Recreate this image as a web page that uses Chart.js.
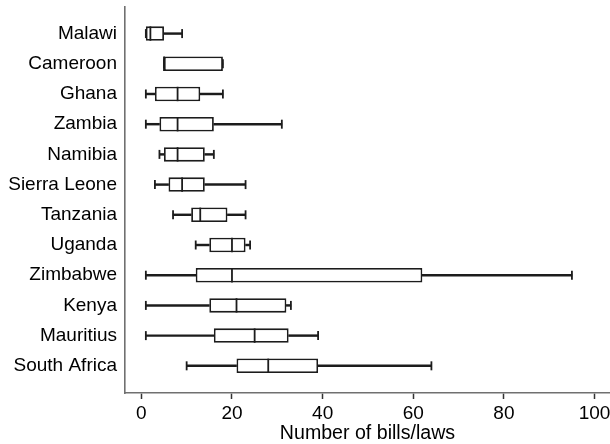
<!DOCTYPE html>
<html>
<head>
<meta charset="utf-8">
<script src="https://cdn.jsdelivr.net/npm/chart.js@4/dist/chart.umd.min.js"></script>
<style>
  html, body { margin: 0; padding: 0; background: #fff; overflow: hidden; }
  #wrap { width: 610px; height: 444px; }
</style>
</head>
<body>
<div id="wrap"><canvas id="myChart"></canvas></div>
<script>
let countries = ['Malawi', 'Cameroon', 'Ghana', 'Zambia', 'Namibia', 'Sierra Leone', 'Tanzania', 'Uganda', 'Zimbabwe', 'Kenya', 'Mauritius', 'South Africa'];
let lows    = [1, 5, 1, 1, 4, 3, 7, 12, 1, 1, 1, 10];
let q1s     = [1, 5, 3, 4, 5, 6, 11, 15, 12, 15, 16, 21];
let medians = [2, 5, 8, 8, 8, 9, 13, 20, 20, 21, 25, 28];
let q3s     = [5, 18, 13, 16, 14, 14, 19, 23, 62, 32, 32.5, 39];
let highs   = [9, 18, 18, 31, 16, 23, 23, 24, 95, 33, 39, 64];
let xTicks  = [0, 20, 40, 60, 80, 100];

let ink = '#1c1c1c';
let axisGray = '#707070';
let font = { family: "'Liberation Sans', Arial, sans-serif", size: 19 };
let titleFont = { family: "'Liberation Sans', Arial, sans-serif", size: 19.6 };

let lowWhisker = [], highWhisker = [], boxes = [], mids = [], caps = [];
for (let i = 0; i < countries.length; i++) {
  lowWhisker.push({ x: [lows[i], q1s[i]], y: i });
  highWhisker.push({ x: [q3s[i], highs[i]], y: i });
  boxes.push({ x: [q1s[i], q3s[i]], y: i });
  mids.push({ x: medians[i], y: i });
  caps.push({ x: lows[i], y: i });
  caps.push({ x: highs[i], y: i });
}

let whiskerStyle = {
  backgroundColor: ink,
  borderWidth: 0,
  barThickness: 1.8,
  grouped: false
};

let capStyle = {
  type: 'scatter',
  pointStyle: 'line',
  rotation: 90,
  borderColor: ink,
  borderWidth: 1.8,
  showLine: false
};

let canvas = document.getElementById('myChart');
let ctx = canvas.getContext('2d');

let myChart = new Chart(ctx, {
  type: 'bar',
  data: {
    datasets: [
      Object.assign({ data: lowWhisker, order: 3 }, whiskerStyle),
      Object.assign({ data: highWhisker, order: 3 }, whiskerStyle),
      {
        data: boxes,
        order: 2,
        backgroundColor: '#ffffff',
        borderColor: ink,
        borderWidth: 1.8,
        borderSkipped: false,
        categoryPercentage: 1,
        barPercentage: 0.48,
        grouped: false
      },
      Object.assign({ data: mids, order: 1, pointRadius: 7.2 }, capStyle),
      Object.assign({ data: caps, order: 1, pointRadius: 4.5 }, capStyle)
    ]
  },
  options: {
    indexAxis: 'y',
    responsive: true,
    maintainAspectRatio: false,
    animation: false,
    layout: { autoPadding: false, padding: { top: 7, right: 0, bottom: 0, left: 0 } },
    plugins: {
      legend: { display: false },
      tooltip: { enabled: false }
    },
    scales: {
      x: {
        type: 'linear',
        position: 'bottom',
        min: -3.6,
        max: 103.4,
        afterBuildTicks: (scale) => { scale.ticks = xTicks.map(v => ({ value: v })); },
        afterFit: (scale) => { scale.height = 51; scale.paddingRight = 0; scale.paddingLeft = 0; },
        grid: { drawOnChartArea: false, drawTicks: true, tickLength: 6, tickColor: '#333', tickWidth: 1.5 },
        border: { display: true, color: axisGray, width: 1.6 },
        ticks: { color: '#000', font: font, padding: 3, maxRotation: 0 },
        title: { display: true, text: 'Number of bills/laws', color: '#000', font: titleFont, padding: { top: 0, bottom: -1 } }
      },
      y: {
        type: 'linear',
        reverse: true,
        offset: false,
        min: -0.88,
        max: 11.9,
        afterBuildTicks: (scale) => { scale.ticks = countries.map((c, i) => ({ value: i })); },
        afterFit: (scale) => { scale.width = 125; scale.paddingTop = 0; scale.paddingBottom = 0; },
        grid: { display: false, drawTicks: false },
        border: { display: true, color: axisGray, width: 1.6 },
        ticks: {
          color: '#000',
          font: font,
          padding: 8,
          callback: (value) => countries[value]
        }
      }
    }
  }
});
</script>
</body>
</html>
